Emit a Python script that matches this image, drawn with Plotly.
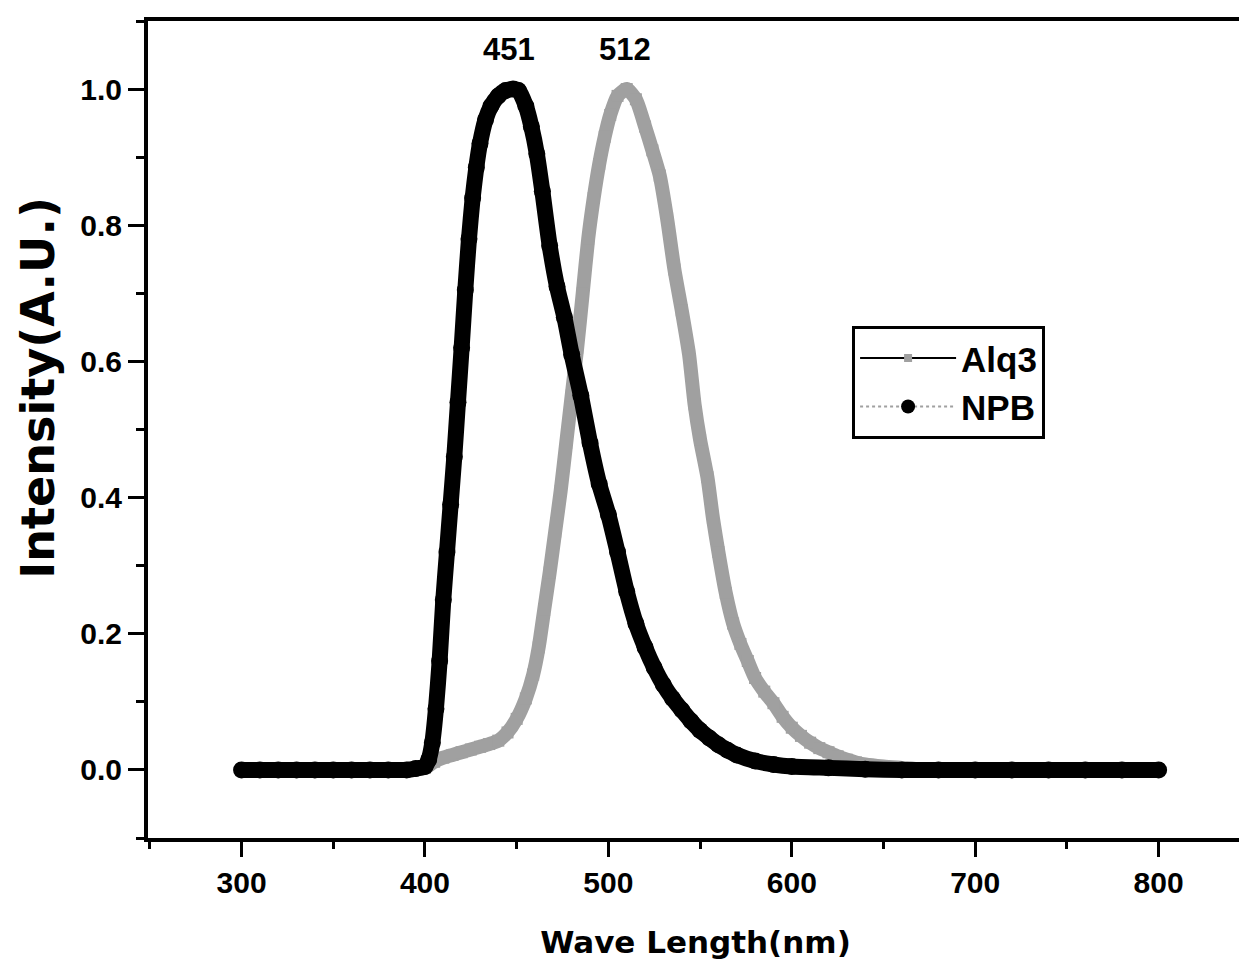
import plotly.graph_objects as go

# ---- data ----
npb_wl = [300, 310, 320, 330, 340, 350, 360, 370, 380, 390, 395, 400, 402, 404, 406, 408, 410, 412, 414,
          416, 418, 420, 422, 424, 426, 428, 430, 433, 436, 440, 444, 448, 451, 455, 458, 461, 464, 468,
          472, 476, 480, 485, 490, 495, 500, 505, 510, 515, 520, 525, 530, 535, 540, 545, 550, 555, 560,
          565, 570, 580, 590, 600, 620, 640, 660, 680, 700, 720, 740, 760, 780, 800]
npb_int = [0, 0, 0, 0, 0, 0, 0, 0, 0, 0, 0.002, 0.005, 0.015, 0.04, 0.09, 0.16, 0.25, 0.32, 0.39,
           0.46, 0.54, 0.62, 0.705, 0.78, 0.84, 0.885, 0.92, 0.955, 0.975, 0.99, 0.998, 1.0, 0.998, 0.975,
           0.945, 0.905, 0.85, 0.77, 0.71, 0.665, 0.61, 0.55, 0.48, 0.42, 0.375, 0.32, 0.262, 0.215, 0.18,
           0.15, 0.125, 0.105, 0.088, 0.072, 0.058, 0.047, 0.037, 0.029, 0.022, 0.013, 0.008, 0.005, 0.003,
           0.001, 0, 0, 0, 0, 0, 0, 0, 0]

alq_wl = [300, 320, 340, 360, 380, 395, 400, 405, 410, 415, 420, 425, 430, 435, 440, 445, 450, 455, 459,
          462, 465, 468, 471, 474, 477, 480, 483, 486, 489, 492, 495, 498, 501, 505, 510, 515, 520, 524,
          528, 532, 536, 540, 544, 547, 550, 554, 557, 560, 564, 568, 572, 576, 580, 585, 590, 595, 600,
          605, 610, 615, 620, 625, 630, 635, 640, 650, 660, 670, 680, 700, 720, 740, 760, 780, 800]
alq_int = [0, 0, 0, 0, 0, 0.001, 0.003, 0.012, 0.018, 0.022, 0.026, 0.03, 0.034, 0.038, 0.043, 0.055,
           0.075, 0.105, 0.14, 0.18, 0.235, 0.29, 0.35, 0.41, 0.48, 0.55, 0.62, 0.7, 0.78, 0.84,
           0.89, 0.93, 0.962, 0.99, 1.0, 0.985, 0.945, 0.91, 0.873, 0.81, 0.735, 0.675, 0.61, 0.537,
           0.485, 0.43, 0.37, 0.32, 0.26, 0.215, 0.185, 0.16, 0.135, 0.115, 0.098, 0.078, 0.062, 0.05,
           0.04, 0.032, 0.026, 0.02, 0.015, 0.011, 0.008, 0.005, 0.003, 0.001, 0, 0, 0, 0, 0, 0, 0]

series_names = ["Alq3", "NPB"]
peak_labels = ["451", "512"]
peak_label_x = [446, 509]
peak_label_y = [1.058, 1.058]

x_ticks = [300, 400, 500, 600, 700, 800]
y_ticks = [0.0, 0.2, 0.4, 0.6, 0.8, 1.0]

x_title = "Wave Length(nm)"
y_title = "Intensity(A.U.)"

GRAY = "#a0a0a0"
FONT = "Liberation Sans, Arial, sans-serif"

fig = go.Figure()

# Alq3 band (gray halftone look)
fig.add_trace(go.Scatter(x=alq_wl, y=alq_int, mode="lines+markers",
                         line=dict(color=GRAY, width=14, shape="spline", smoothing=0.6),
                         marker=dict(symbol="square", size=12, color=GRAY),
                         showlegend=False, hoverinfo="skip"))
# NPB band (black circles)
fig.add_trace(go.Scatter(x=npb_wl, y=npb_int, mode="lines+markers",
                         line=dict(color="black", width=16, shape="spline", smoothing=0.6),
                         marker=dict(symbol="circle", size=17, color="black"),
                         showlegend=False, hoverinfo="skip"))

# legend entries
fig.add_trace(go.Scatter(x=[None], y=[None], mode="lines+markers", name=series_names[0],
                         line=dict(color="black", width=2),
                         marker=dict(symbol="square", size=8, color=GRAY)))
fig.add_trace(go.Scatter(x=[None], y=[None], mode="lines+markers", name=series_names[1],
                         line=dict(color=GRAY, width=2, dash="dot"),
                         marker=dict(symbol="circle", size=14, color="black")))

for lab, lx, ly in zip(peak_labels, peak_label_x, peak_label_y):
    fig.add_annotation(x=lx, y=ly, text=lab, showarrow=False,
                       font=dict(family=FONT, size=31, color="black", weight="bold"),
                       xanchor="center", yanchor="middle")

# y-axis title as a rotated annotation (positioned like the reference)
fig.add_annotation(xref="paper", yref="paper", x=-0.1005, y=0.551, text=y_title,
                   textangle=-90, showarrow=False, xanchor="center", yanchor="middle",
                   font=dict(family="DejaVu Sans", size=46, color="black", weight="bold"))

axis_common = dict(showline=True, linewidth=4, linecolor="black", mirror=True, automargin=False,
                   ticks="outside", tickwidth=3, tickcolor="black", showgrid=False, zeroline=False,
                   tickfont=dict(family=FONT, size=30, color="black", weight="bold"))

fig.update_xaxes(range=[249, 846], tickvals=x_ticks, ticklen=15,
                 minor=dict(dtick=50, tick0=300, ticks="outside", ticklen=7, tickwidth=3, tickcolor="black"),
                 title=dict(text=x_title, standoff=34,
                            font=dict(family="DejaVu Sans", size=31, color="black", weight="bold")),
                 **axis_common)
fig.update_yaxes(range=[-0.1, 1.1], tickvals=y_ticks, tickformat=".1f", ticklen=16,
                 minor=dict(dtick=0.1, tick0=0, ticks="outside", ticklen=8, tickwidth=3, tickcolor="black"),
                 **axis_common)

# the page body adds an 8px margin, so the figure is sized/margined to compensate
fig.update_layout(
    width=1239, height=965,
    margin=dict(l=140, r=4, t=13, b=135),
    plot_bgcolor="white", paper_bgcolor="white",
    showlegend=True,
    legend=dict(x=0.643, y=0.627, xanchor="left", yanchor="top",
                bgcolor="white", bordercolor="black", borderwidth=3,
                font=dict(family=FONT, size=35, color="black", weight="bold"),
                itemwidth=96, tracegroupgap=0),
)

fig.write_html("out.html")
